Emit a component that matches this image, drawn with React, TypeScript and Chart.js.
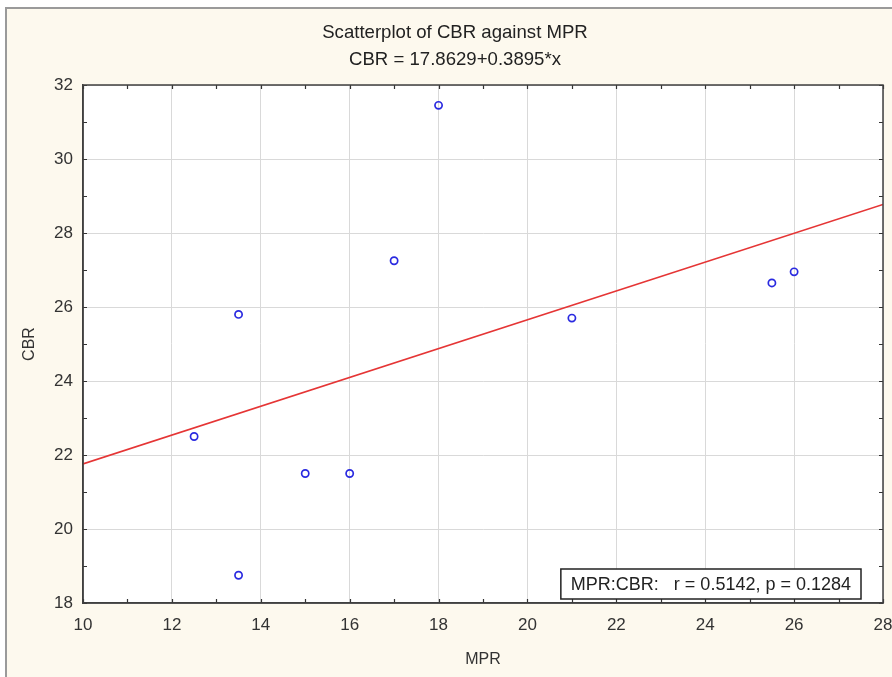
import React, { useEffect, useRef } from "react";
import { Chart, registerables } from "chart.js";

Chart.register(...registerables);

const mprValues = [12.5, 13.5, 13.5, 15, 16, 17, 18, 21, 25.5, 26];
const cbrValues = [22.5, 25.8, 18.75, 21.5, 21.5, 27.25, 31.45, 25.7, 26.65, 26.95];
const fitX = [10, 28];
const fitY = [21.76, 28.77];
const titleLines = ["Scatterplot of CBR against MPR", "CBR = 17.8629+0.3895*x"];
const statText = "MPR:CBR:   r = 0.5142, p = 0.1284";
const xAxisTitle = "MPR";
const yAxisTitle = "CBR";

const FONT = "'Liberation Sans', Arial, sans-serif";

const framePlugin = {
  id: "frame",
  beforeDraw(chart: any) {
    const { ctx, width, height, chartArea } = chart;
    ctx.save();
    ctx.fillStyle = "#ffffff";
    ctx.fillRect(0, 0, width, height);
    ctx.fillStyle = "#fdf9ee";
    ctx.fillRect(6, 8, width - 6, height - 8);
    ctx.strokeStyle = "#9a9a9a";
    ctx.lineWidth = 2;
    ctx.beginPath();
    ctx.moveTo(6, height);
    ctx.lineTo(6, 8);
    ctx.lineTo(width, 8);
    ctx.stroke();
    ctx.fillStyle = "#ffffff";
    ctx.fillRect(chartArea.left, chartArea.top, chartArea.right - chartArea.left, chartArea.bottom - chartArea.top);
    ctx.restore();
  },
  afterDatasetsDraw(chart: any) {
    const { ctx, chartArea, scales } = chart;
    const xs = scales.x;
    const ys = scales.y;
    ctx.save();
    ctx.strokeStyle = "#333333";
    ctx.lineWidth = 1.2;
    ctx.beginPath();
    for (let v = xs.min; v <= xs.max; v += 1) {
      const px = Math.round(xs.getPixelForValue(v)) + 0.5;
      ctx.moveTo(px, chartArea.bottom);
      ctx.lineTo(px, chartArea.bottom - 4);
      ctx.moveTo(px, chartArea.top);
      ctx.lineTo(px, chartArea.top + 4);
    }
    for (let v = ys.min; v <= ys.max; v += 1) {
      const py = Math.round(ys.getPixelForValue(v)) + 0.5;
      ctx.moveTo(chartArea.left, py);
      ctx.lineTo(chartArea.left + 4, py);
      ctx.moveTo(chartArea.right, py);
      ctx.lineTo(chartArea.right - 4, py);
    }
    ctx.stroke();
    ctx.strokeStyle = "#404040";
    ctx.lineWidth = 1.5;
    ctx.strokeRect(chartArea.left, chartArea.top, chartArea.right - chartArea.left, chartArea.bottom - chartArea.top);
    // stats box
    ctx.font = `18px ${FONT}`;
    const tw = ctx.measureText(statText).width;
    const boxRight = chartArea.right - 22;
    const boxBottom = chartArea.bottom - 4;
    const boxW = tw + 20;
    const boxH = 30;
    ctx.fillStyle = "#ffffff";
    ctx.fillRect(boxRight - boxW, boxBottom - boxH, boxW, boxH);
    ctx.strokeStyle = "#222222";
    ctx.lineWidth = 1.5;
    ctx.strokeRect(boxRight - boxW, boxBottom - boxH, boxW, boxH);
    ctx.fillStyle = "#222222";
    ctx.textBaseline = "middle";
    ctx.textAlign = "left";
    ctx.fillText(statText, boxRight - boxW + 10, boxBottom - boxH / 2 + 1);
    ctx.restore();
  },
};

export default function App() {
  const ref = useRef<HTMLCanvasElement>(null);
  useEffect(() => {
    if (!ref.current) return;
    const chart = new Chart(ref.current, {
      type: "scatter",
      data: {
        datasets: [
          {
            label: "points",
            data: mprValues.map((x, i) => ({ x, y: cbrValues[i] })),
            backgroundColor: "rgba(0,0,0,0)",
            borderColor: "#2a2ae0",
            borderWidth: 1.7,
            pointRadius: 3.6,
            pointStyle: "circle",
          },
          {
            label: "fit",
            type: "line",
            data: fitX.map((x, i) => ({ x, y: fitY[i] })),
            borderColor: "#e53535",
            borderWidth: 1.6,
            pointRadius: 0,
            fill: false,
          } as any,
        ],
      },
      options: {
        animation: false,
        responsive: false,
        devicePixelRatio: 1,
        layout: { padding: { left: 18, right: 0, top: 0, bottom: 0 } },
        plugins: {
          legend: { display: false },
          tooltip: { enabled: false },
          title: {
            display: true,
            text: titleLines,
            color: "#222222",
            font: { family: FONT, size: 18.6, weight: "normal", lineHeight: 27 / 18.6 },
            padding: { top: 19.5, bottom: 11.5 },
          },
        },
        scales: {
          x: {
            type: "linear",
            min: 10,
            max: 28,
            ticks: { stepSize: 2, color: "#333333", font: { family: FONT, size: 17 }, padding: 12 },
            grid: { color: "#d9d9d9", lineWidth: 1, drawTicks: false },
            border: { display: true, color: "#404040", width: 1.5 },
            title: {
              display: true,
              text: xAxisTitle,
              color: "#333333",
              font: { family: FONT, size: 16 },
              padding: { top: 0, bottom: 8 },
            },
            afterFit(scale: any) {
              scale.height = 74;
              scale.paddingRight = 9;
            },
          },
          y: {
            type: "linear",
            min: 18,
            max: 32,
            ticks: { stepSize: 2, color: "#333333", font: { family: FONT, size: 17 }, padding: 10 },
            grid: { color: "#d9d9d9", lineWidth: 1, drawTicks: false },
            border: { display: true, color: "#404040", width: 1.5 },
            title: {
              display: true,
              text: yAxisTitle,
              color: "#333333",
              font: { family: FONT, size: 16 },
              padding: { top: 2, bottom: 0 },
            },
            afterFit(scale: any) {
              scale.width = 65;
            },
          },
        },
      },
      plugins: [framePlugin],
    });
    return () => chart.destroy();
  }, []);
  return (
    <div style={{ position: "absolute", left: 0, top: 0, width: 892, height: 677 }}>
      <canvas ref={ref} width={892} height={677} style={{ display: "block" }} />
    </div>
  );
}
